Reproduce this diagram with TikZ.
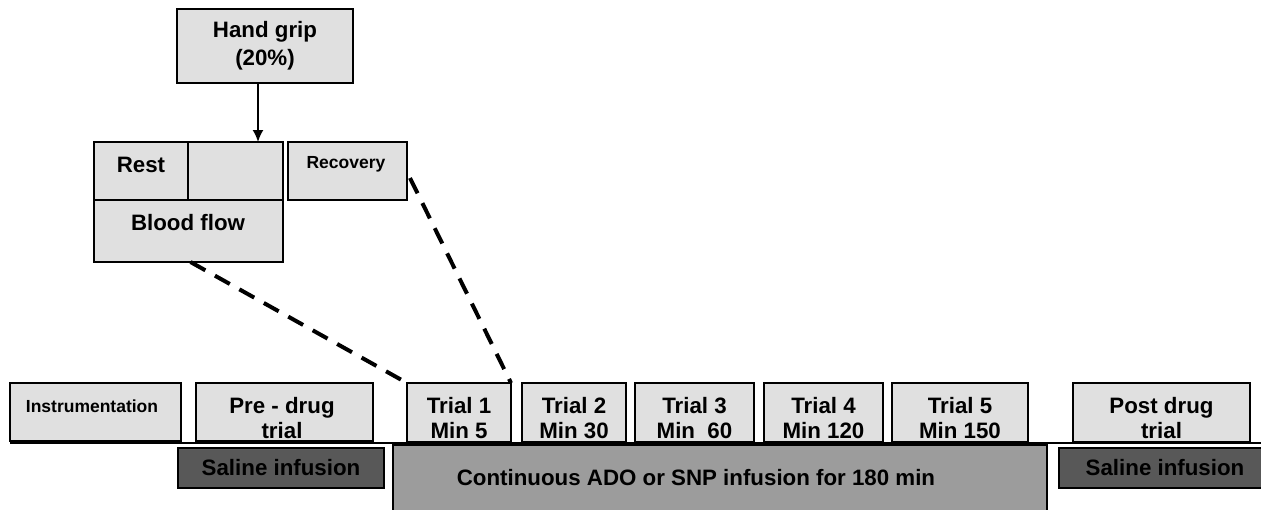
\documentclass[tikz,border=0pt]{standalone}
\usepackage{fontspec}
\setmainfont{Liberation Sans}
\usetikzlibrary{arrows.meta,calc}
\definecolor{lightbox}{RGB}{224,224,224}
\definecolor{darkbox}{RGB}{88,88,88}
\definecolor{midbox}{RGB}{156,156,156}
\tikzset{
  box/.style 2 args={anchor=north west, minimum width=#1pt, minimum height=#2pt, inner sep=0pt, outer sep=0pt},
  lbox/.style={draw=black, line width=2pt, fill=lightbox},
  dbox/.style={draw=black, line width=2pt, fill=darkbox},
  mbox/.style={draw=black, line width=2pt, fill=midbox},
  big/.style={font=\bfseries\fontsize{22.3}{25}\selectfont, align=center},
  small/.style={font=\bfseries\fontsize{17.5}{20}\selectfont},
  txt/.style={inner sep=0pt, outer sep=0pt},
  dashline/.style={line width=4pt, dash pattern=on 17pt off 11pt},
  arr/.style={line width=1.8pt, -{Latex[length=12pt,width=11pt]}},
}
\begin{document}
\begin{tikzpicture}[x=1pt,y=-1pt]
\useasboundingbox (0,0) rectangle (1261,509);
% top part
\node[lbox, box={176}{74}, big, font=\bfseries\fontsize{22.3}{28}\selectfont] (hand) at (177,9) {Hand grip\\(20\%)};
\node[lbox, box={94}{58}] (rest) at (94,142) {};
\node[lbox, box={95}{58}] (empty) at (188,142) {};
\node[lbox, box={189}{62}] (blood) at (94,200) {};
\node[lbox, box={119}{58}] (recov) at (288,142) {};
\node[txt, big, anchor=base] (resttxt) at (141,172) {Rest};
\node[txt, big, anchor=base] (bloodtxt) at (188,230) {Blood flow};
\node[txt, small, anchor=base] (recovtxt) at (346,168) {Recovery};
\coordinate (ax) at (258,142);
\draw[arr] (hand.south -| ax) -- (ax);
% timeline line
\coordinate (lineL) at (10,443);
\coordinate (lineR) at (1261,443);
% bottom row
\node[lbox, box={171}{58}] (instr) at (10,383) {};
\node[txt, small, anchor=base] (instrtxt) at (92,412) {Instrumentation};
\node[lbox, box={177}{58}] (pre) at (196,383) {};
\node[txt, big] (pretxt) at (282,418) {Pre - drug\\trial};
\node[lbox, box={104}{59}] (t1) at (407,383) {};
\node[lbox, box={104}{59}] (t2) at (522,383) {};
\node[lbox, box={119}{59}] (t3) at (635,383) {};
\node[lbox, box={119}{59}] (t4) at (764,383) {};
\node[lbox, box={136}{59}] (t5) at (892,383) {};
\node[lbox, box={177}{59}] (post) at (1073,383) {};
\node[txt, big] (t1txt) at ($(t1.center)+(0,6)$) {Trial 1\\Min 5};
\node[txt, big] (t2txt) at ($(t2.center)+(0,6)$) {Trial 2\\Min 30};
\node[txt, big] (t3txt) at ($(t3.center)+(0,6)$) {Trial 3\\Min\ \ 60};
\node[txt, big] (t4txt) at ($(t4.center)+(0,6)$) {Trial 4\\Min 120};
\node[txt, big] (t5txt) at ($(t5.center)+(0,6)$) {Trial 5\\Min 150};
\node[txt, big] (posttxt) at ($(post.center)+(0,6)$) {Post drug\\trial};
\draw[line width=1.5pt] (lineL) -- (lineR);
\node[dbox, box={206}{40}, big] (sal1) at (178,448) {Saline infusion};
\node[mbox, box={654}{72}] (cont) at (393,445) {};
\node[txt, big, anchor=base] (conttxt) at (696,485) {Continuous ADO or SNP infusion for 180 min};
\node[dbox, box={212}{40}, big] (sal2) at (1059,448) {Saline infusion};
% dashed zoom lines
\draw[dashline] ($(blood.south)+(2,0)$) -- (t1.north west);
\draw[dashline] ($(recov.east)+(3,7)$) -- (t1.north east);
\end{tikzpicture}
\end{document}
